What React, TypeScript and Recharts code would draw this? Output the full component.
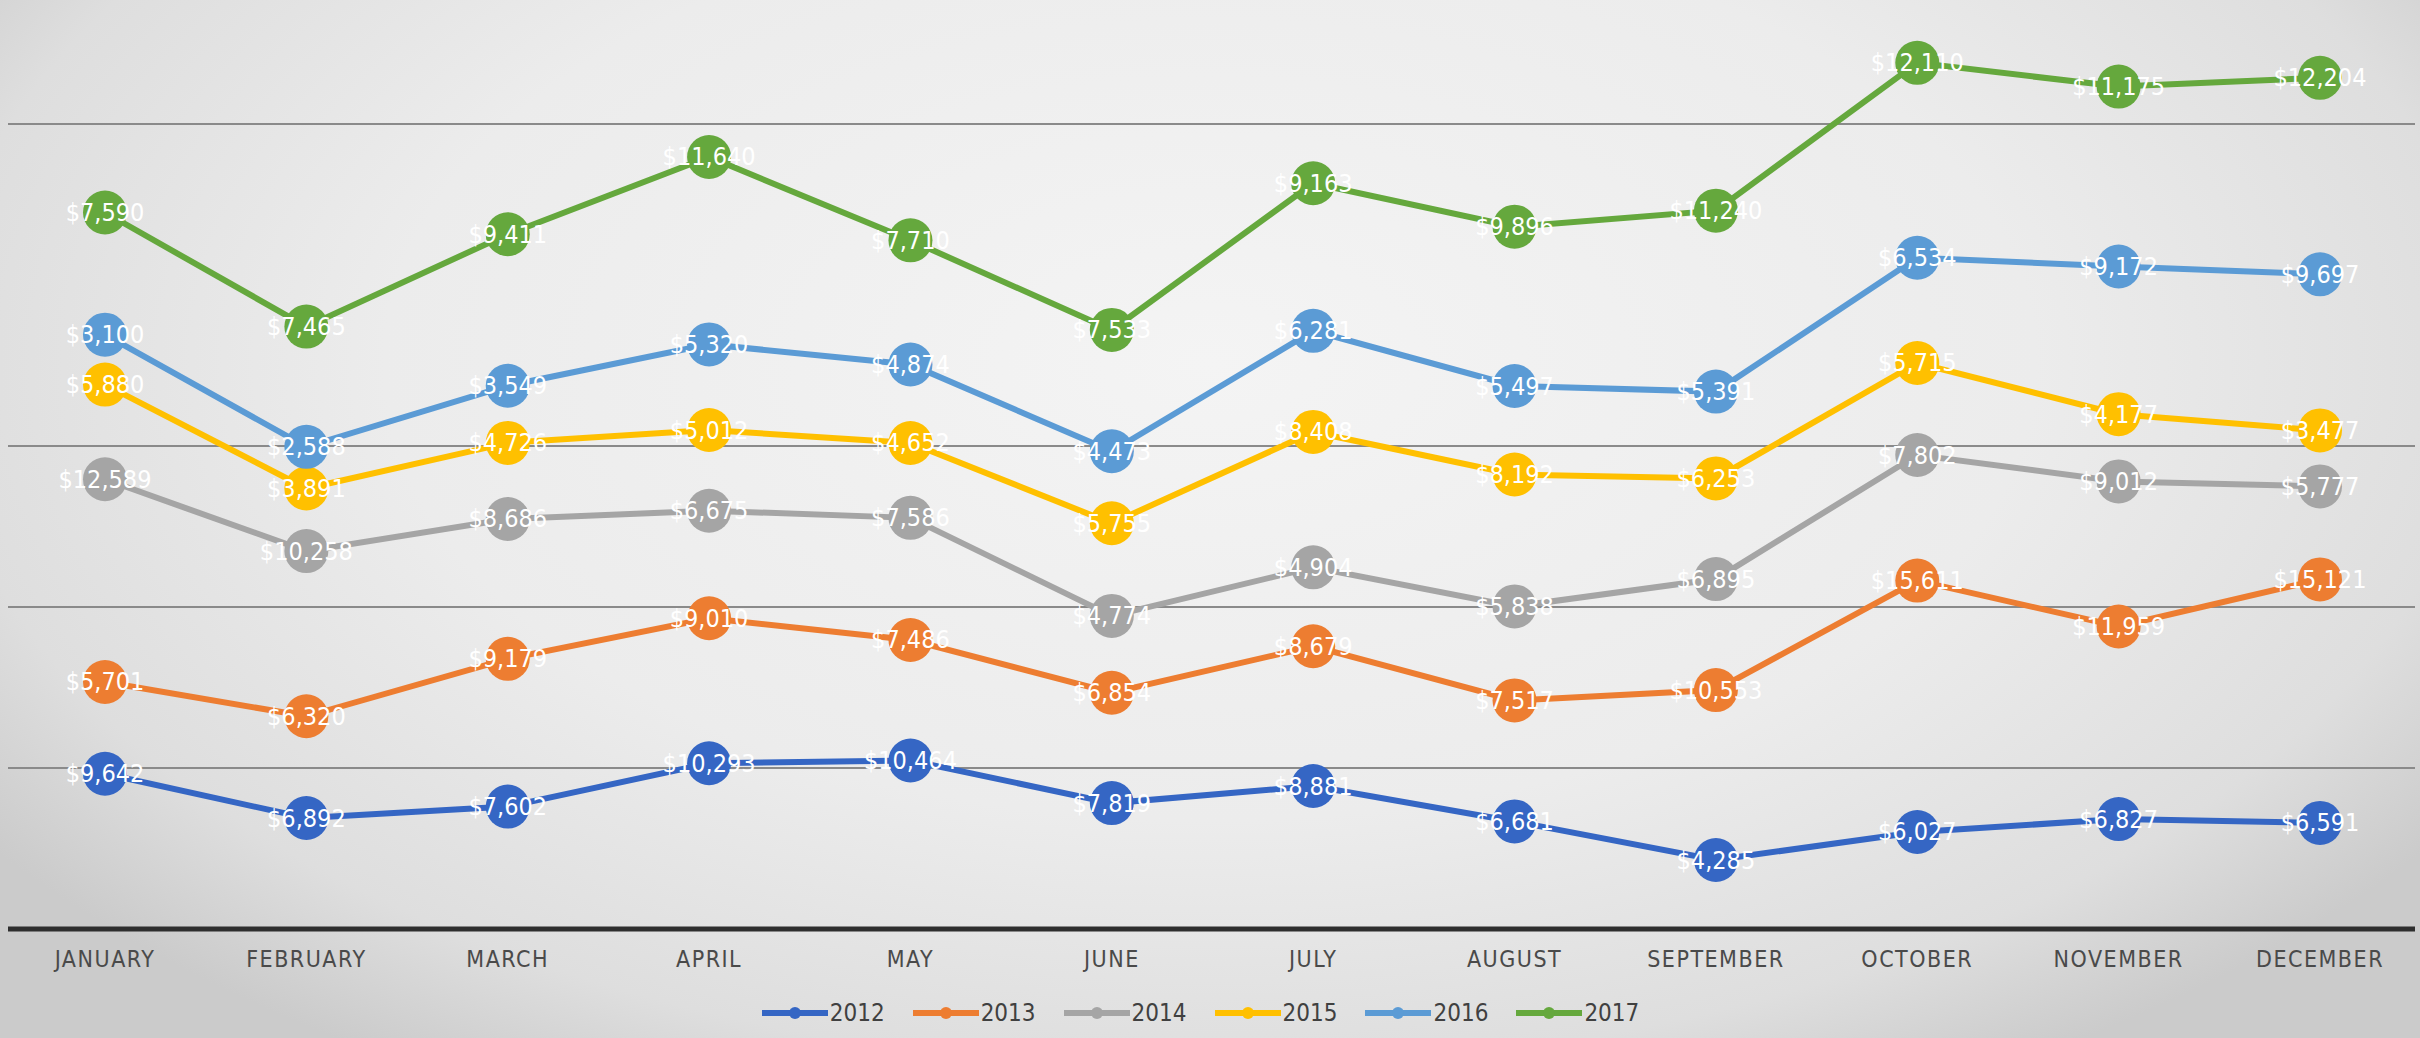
import React from "react";
import { LineChart, Line, XAxis, YAxis, CartesianGrid, Legend, LabelList } from "recharts";

const months = ["JANUARY", "FEBRUARY", "MARCH", "APRIL", "MAY", "JUNE", "JULY", "AUGUST", "SEPTEMBER", "OCTOBER", "NOVEMBER", "DECEMBER"];
const years = ["2012", "2013", "2014", "2015", "2016", "2017"];

const s2012 = [9642, 6892, 7602, 10293, 10464, 7819, 8881, 6681, 4285, 6027, 6827, 6591];
const s2013 = [5701, 6320, 9179, 9010, 7486, 6854, 8679, 7517, 10553, 15611, 11959, 15121];
const s2014 = [12589, 10258, 8686, 6675, 7586, 4774, 4904, 5838, 6895, 7802, 9012, 5777];
const s2015 = [5880, 3891, 4726, 5012, 4652, 5755, 8408, 8192, 6253, 5715, 4177, 3477];
const s2016 = [3100, 2588, 3549, 5320, 4874, 4473, 6281, 5497, 5391, 6534, 9172, 9697];
const s2017 = [7590, 7465, 9411, 11640, 7710, 7533, 9163, 9896, 11240, 12110, 11175, 12204];

const gridValues = [10000, 20000, 30000, 50000];
const yMax = 57700;

const seriesValues = [s2012, s2013, s2014, s2015, s2016, s2017];
const colors = ["#3566c4", "#ed7d31", "#a5a5a5", "#ffc000", "#5b9bd5", "#65a83d"];

// stacked line table built from the arrays above
const data = months.map((m, i) => {
  const row: any = { month: m };
  let cum = 0;
  years.forEach((y, k) => {
    cum += seriesValues[k][i];
    row["v" + y] = seriesValues[k][i];
    row["c" + y] = cum;
  });
  return row;
});

const labelFont = "'Liberation Sans Narrow', 'DejaVu Sans Condensed', 'Roboto', sans-serif";
const axisFont = "'DejaVu Sans Condensed', 'DejaVu Sans', sans-serif";

const DataLabel = (props: any) => {
  const { x, y, value } = props;
  if (x == null || y == null) return null;
  return (
    <text
      x={x}
      y={y}
      fill="#ffffff"
      textAnchor="middle"
      dominantBaseline="central"
      fontSize={25}
      fontFamily={labelFont}
    >
      {"$" + Number(value).toLocaleString("en-US")}
    </text>
  );
};

const MonthTick = (props: any) => {
  const { x, y, payload } = props;
  return (
    <text
      x={x}
      y={y + 22}
      textAnchor="middle"
      dominantBaseline="central"
      fontSize={23}
      letterSpacing={1.5}
      fill="#4a4a4a"
      fontFamily={axisFont}
    >
      {payload.value}
    </text>
  );
};

const LegendContent = () => (
  <div style={{ display: "flex", justifyContent: "center", alignItems: "center", height: 50, paddingLeft: 6 }}>
    {years.map((y, k) => (
      <div key={y} style={{ display: "flex", alignItems: "center", marginRight: 28 }}>
        <svg width={66} height={20}>
          <line x1={0} y1={10} x2={66} y2={10} stroke={colors[k]} strokeWidth={6} />
          <circle cx={33} cy={10} r={6} fill={colors[k]} />
        </svg>
        <span style={{ fontFamily: axisFont, fontSize: 24, color: "#404040", marginLeft: 2 }}>{y}</span>
      </div>
    ))}
  </div>
);

export default function App() {
  return (
    <div
      style={{
        position: "absolute",
        left: 0,
        top: 0,
        width: 2420,
        height: 1038,
        overflow: "hidden",
        background:
          "radial-gradient(ellipse 62% 80% at 50% 35%, #f4f4f4 0%, #ececec 55%, #dedede 85%, #cbcbcb 100%)",
      }}
    >
      <LineChart width={2420} height={1038} data={data} margin={{ top: 0, right: 5, left: 8, bottom: 0 }}>
        <CartesianGrid vertical={false} stroke="#8a8a8a" strokeWidth={2} horizontalValues={gridValues} />
        <XAxis
          dataKey="month"
          axisLine={{ stroke: "#2e2e2e", strokeWidth: 5 }}
          tickLine={false}
          tick={<MonthTick />}
          interval={0}
          height={59}
          padding={{ left: 97, right: 95 }}
        />
        <YAxis hide width={0} domain={[0, yMax]} ticks={gridValues} allowDataOverflow />
        <Legend verticalAlign="bottom" height={50} content={<LegendContent />} />
        {years.map((y, k) => (
          <Line
            key={y}
            type="linear"
            dataKey={"c" + y}
            name={y}
            stroke={colors[k]}
            strokeWidth={6}
            dot={{ r: 22, fill: colors[k], stroke: "none" }}
            activeDot={false}
            legendType="none"
            isAnimationActive={false}
          />
        ))}
        {years.map((y) => (
          <Line
            key={"lab" + y}
            type="linear"
            dataKey={"c" + y}
            stroke="none"
            dot={false}
            activeDot={false}
            legendType="none"
            isAnimationActive={false}
          >
            <LabelList dataKey={"v" + y} content={<DataLabel />} />
          </Line>
        ))}
      </LineChart>
    </div>
  );
}
